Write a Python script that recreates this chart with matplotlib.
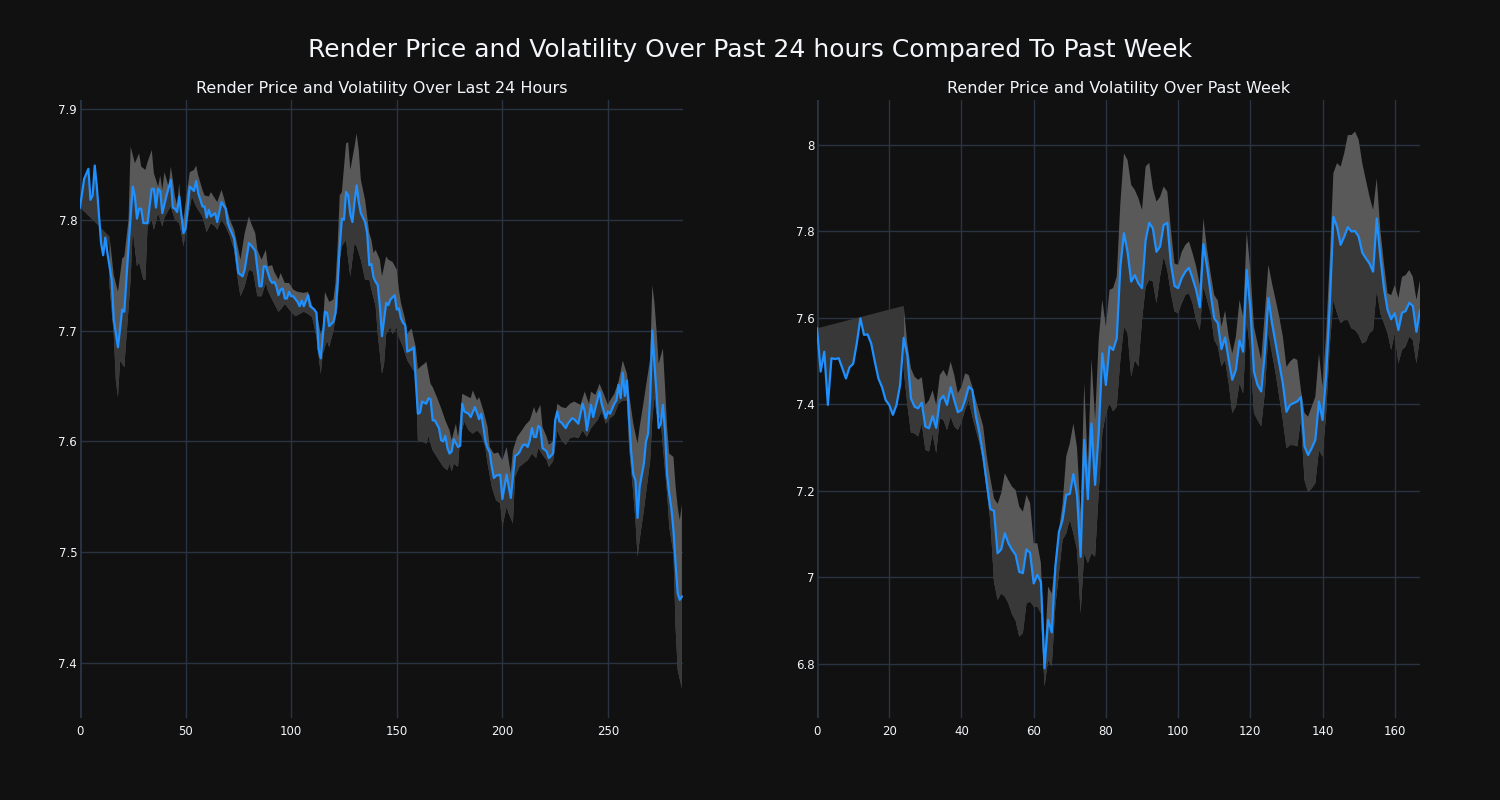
import numpy as np
import matplotlib.pyplot as plt
from matplotlib.patches import Polygon
from matplotlib.ticker import FuncFormatter

plt.rcParams['font.family'] = ['DejaVu Sans']

# ---- last 24 hours (5 min steps) ----
day_x = [0, 2, 4, 5, 6, 7, 8, 10, 11, 12, 13, 15, 16, 18, 20, 21, 23, 25, 26, 27, 28, 29, 30, 32, 34, 35,
         36, 37, 38, 39, 41, 43, 44, 45, 46, 47, 49, 50, 52, 54, 55, 56, 58, 59, 60, 61, 62, 64, 65, 67, 69,
         70, 71, 73, 75, 77, 78, 80, 81, 83, 85, 86, 87, 88, 90, 91, 92, 93, 94, 95, 96, 97, 98, 99, 100,
         101, 103, 104, 105, 106, 108, 109, 111, 112, 113, 114, 115, 116, 117, 118, 120, 121, 122, 123, 124,
         125, 126, 127, 128, 129, 130, 131, 132, 133, 135, 136, 137, 138, 139, 140, 141, 142, 143, 144, 145,
         146, 147, 149, 150, 151, 152, 153, 154, 155, 157, 158, 159, 160, 161, 162, 164, 165, 166, 167, 168,
         170, 171, 172, 173, 174, 175, 176, 177, 179, 180, 181, 182, 184, 185, 187, 189, 190, 191, 192, 193,
         194, 195, 196, 197, 199, 200, 202, 204, 206, 207, 208, 209, 210, 211, 212, 213, 214, 215, 216, 217,
         218, 219, 221, 222, 224, 225, 226, 227, 228, 230, 231, 233, 234, 236, 238, 239, 240, 242, 243, 244,
         246, 247, 249, 250, 251, 253, 254, 255, 256, 257, 258, 259, 260, 261, 262, 263, 264, 265, 267, 268,
         269, 270, 271, 272, 273, 274, 275, 276, 277, 278, 279, 280, 281, 282, 283, 284, 285]
day_price = [7.811, 7.837, 7.846, 7.818, 7.822, 7.849, 7.830, 7.779, 7.768, 7.784, 7.770, 7.746, 7.710, 7.685,
             7.719, 7.717, 7.776, 7.830, 7.821, 7.801, 7.810, 7.810, 7.797, 7.797, 7.828, 7.828, 7.811, 7.828,
             7.826, 7.806, 7.822, 7.836, 7.811, 7.810, 7.807, 7.821, 7.788, 7.792, 7.830, 7.826, 7.835, 7.824,
             7.812, 7.812, 7.802, 7.809, 7.803, 7.806, 7.798, 7.816, 7.810, 7.797, 7.792, 7.783, 7.752, 7.749,
             7.755, 7.779, 7.777, 7.772, 7.740, 7.740, 7.758, 7.758, 7.746, 7.743, 7.744, 7.740, 7.732, 7.737,
             7.738, 7.729, 7.729, 7.735, 7.731, 7.731, 7.726, 7.722, 7.727, 7.722, 7.732, 7.722, 7.719, 7.716,
             7.683, 7.675, 7.695, 7.717, 7.716, 7.704, 7.708, 7.716, 7.743, 7.776, 7.801, 7.800, 7.825, 7.822,
             7.805, 7.798, 7.816, 7.831, 7.816, 7.806, 7.798, 7.788, 7.759, 7.760, 7.748, 7.744, 7.741, 7.722,
             7.695, 7.710, 7.725, 7.723, 7.728, 7.732, 7.719, 7.720, 7.711, 7.707, 7.705, 7.681, 7.683, 7.685,
             7.655, 7.625, 7.626, 7.636, 7.634, 7.639, 7.638, 7.619, 7.619, 7.612, 7.601, 7.600, 7.605, 7.594,
             7.589, 7.591, 7.602, 7.595, 7.596, 7.634, 7.627, 7.625, 7.622, 7.631, 7.620, 7.625, 7.613, 7.600,
             7.594, 7.590, 7.577, 7.567, 7.569, 7.570, 7.548, 7.570, 7.549, 7.587, 7.588, 7.590, 7.594, 7.597,
             7.597, 7.595, 7.601, 7.612, 7.604, 7.604, 7.614, 7.612, 7.594, 7.591, 7.585, 7.589, 7.619, 7.627,
             7.618, 7.617, 7.612, 7.616, 7.621, 7.620, 7.616, 7.634, 7.627, 7.610, 7.633, 7.622, 7.630, 7.645,
             7.634, 7.621, 7.627, 7.625, 7.634, 7.637, 7.651, 7.639, 7.662, 7.641, 7.655, 7.620, 7.590, 7.570,
             7.565, 7.531, 7.559, 7.580, 7.600, 7.607, 7.640, 7.700, 7.670, 7.643, 7.612, 7.616, 7.633, 7.610,
             7.570, 7.553, 7.540, 7.520, 7.490, 7.463, 7.457, 7.460]

day_up_x = [14, 16, 18, 20, 21, 23, 24, 26, 28, 29, 31, 32, 34, 35, 37, 38, 39, 40, 42, 43, 44, 45, 46, 47,
            48, 49, 50, 52, 54, 55, 56, 58, 59, 61, 62, 64, 65, 67, 68, 70, 71, 73, 75, 76, 78, 80, 81, 83,
            84, 86, 88, 89, 91, 92, 94, 95, 97, 99, 101, 103, 106, 108, 110, 112, 114, 115, 116, 118, 120,
            121, 122, 123, 124, 126, 127, 128, 130, 131, 132, 133, 135, 137, 138, 139, 140, 142, 143, 145,
            146, 148, 150, 151, 152, 154, 155, 157, 159, 160, 161, 163, 164, 166, 167, 169, 171, 173, 175,
            176, 178, 179, 180, 181, 183, 185, 186, 188, 189, 191, 193, 194, 196, 198, 200, 202, 204, 205,
            207, 210, 211, 213, 215, 216, 218, 219, 221, 222, 224, 226, 228, 230, 232, 234, 237, 239, 241,
            242, 244, 246, 248, 250, 251, 253, 255, 256, 257, 259, 260, 262, 264, 265, 267, 268, 270, 271,
            272, 273, 274, 276, 277, 278, 279, 281, 282, 283, 284, 285]
day_upper = [7.785, 7.750, 7.735, 7.765, 7.767, 7.800, 7.866, 7.851, 7.860, 7.848, 7.845, 7.852, 7.863, 7.842,
             7.830, 7.840, 7.827, 7.843, 7.830, 7.848, 7.836, 7.821, 7.813, 7.833, 7.806, 7.800, 7.815, 7.843,
             7.845, 7.849, 7.840, 7.827, 7.822, 7.821, 7.825, 7.819, 7.816, 7.827, 7.821, 7.807, 7.800, 7.791,
             7.773, 7.764, 7.788, 7.803, 7.797, 7.788, 7.773, 7.764, 7.773, 7.758, 7.759, 7.753, 7.746, 7.752,
             7.743, 7.743, 7.737, 7.735, 7.734, 7.735, 7.722, 7.717, 7.697, 7.703, 7.735, 7.726, 7.728, 7.743,
             7.776, 7.822, 7.825, 7.869, 7.870, 7.845, 7.866, 7.878, 7.863, 7.836, 7.818, 7.788, 7.782, 7.770,
             7.773, 7.764, 7.749, 7.767, 7.764, 7.762, 7.755, 7.737, 7.725, 7.710, 7.697, 7.702, 7.685, 7.665,
             7.667, 7.670, 7.672, 7.652, 7.649, 7.640, 7.630, 7.619, 7.610, 7.601, 7.616, 7.604, 7.620, 7.643,
             7.641, 7.639, 7.646, 7.637, 7.640, 7.628, 7.613, 7.595, 7.589, 7.590, 7.583, 7.595, 7.571, 7.592,
             7.604, 7.612, 7.615, 7.619, 7.631, 7.625, 7.633, 7.613, 7.604, 7.597, 7.600, 7.634, 7.631, 7.630,
             7.634, 7.636, 7.633, 7.645, 7.634, 7.645, 7.642, 7.652, 7.643, 7.633, 7.637, 7.643, 7.654, 7.663,
             7.673, 7.661, 7.643, 7.616, 7.598, 7.613, 7.637, 7.650, 7.675, 7.741, 7.725, 7.700, 7.670, 7.684,
             7.650, 7.613, 7.589, 7.586, 7.560, 7.541, 7.529, 7.543]

day_lo_x = [14, 16, 17, 18, 19, 21, 22, 24, 25, 27, 28, 30, 31, 32, 34, 35, 37, 39, 40, 42, 43, 45, 47, 48,
            49, 51, 53, 55, 58, 60, 62, 64, 65, 67, 69, 71, 73, 75, 76, 78, 80, 82, 84, 86, 88, 89, 91, 94,
            95, 97, 100, 102, 106, 108, 110, 112, 114, 115, 117, 118, 120, 122, 123, 124, 126, 127, 128, 130,
            131, 133, 135, 137, 138, 140, 141, 143, 144, 145, 147, 148, 150, 151, 153, 155, 157, 159, 160,
            162, 164, 165, 167, 169, 172, 174, 175, 176, 177, 179, 180, 182, 184, 186, 188, 190, 192, 193,
            195, 197, 199, 200, 202, 203, 205, 206, 208, 210, 212, 214, 216, 217, 219, 221, 222, 224, 226,
            228, 230, 232, 234, 236, 238, 240, 242, 245, 247, 249, 251, 253, 255, 257, 259, 260, 262, 263,
            264, 265, 267, 269, 270, 271, 272, 273, 275, 276, 278, 279, 281, 282, 283, 285]
day_lower = [7.740, 7.697, 7.655, 7.640, 7.673, 7.667, 7.694, 7.746, 7.791, 7.758, 7.762, 7.746, 7.746, 7.794,
             7.800, 7.791, 7.806, 7.794, 7.802, 7.809, 7.812, 7.800, 7.797, 7.788, 7.776, 7.800, 7.821, 7.812,
             7.803, 7.789, 7.797, 7.794, 7.791, 7.800, 7.794, 7.785, 7.773, 7.743, 7.731, 7.740, 7.755, 7.753,
             7.731, 7.731, 7.743, 7.736, 7.728, 7.717, 7.719, 7.724, 7.717, 7.713, 7.717, 7.715, 7.712, 7.694,
             7.661, 7.679, 7.691, 7.685, 7.700, 7.722, 7.764, 7.776, 7.782, 7.764, 7.749, 7.779, 7.776, 7.764,
             7.746, 7.746, 7.737, 7.722, 7.697, 7.661, 7.670, 7.697, 7.703, 7.697, 7.703, 7.694, 7.685, 7.673,
             7.667, 7.661, 7.601, 7.600, 7.598, 7.605, 7.592, 7.586, 7.577, 7.574, 7.580, 7.573, 7.580, 7.577,
             7.604, 7.618, 7.610, 7.607, 7.610, 7.606, 7.594, 7.580, 7.559, 7.547, 7.544, 7.523, 7.541, 7.535,
             7.526, 7.568, 7.577, 7.580, 7.583, 7.589, 7.585, 7.594, 7.588, 7.583, 7.577, 7.582, 7.610, 7.601,
             7.597, 7.603, 7.604, 7.603, 7.610, 7.604, 7.612, 7.619, 7.627, 7.616, 7.621, 7.624, 7.634, 7.637,
             7.637, 7.595, 7.553, 7.529, 7.496, 7.511, 7.538, 7.568, 7.583, 7.620, 7.640, 7.625, 7.619, 7.595,
             7.553, 7.523, 7.499, 7.433, 7.394, 7.377]

# ---- past week (hourly) ----
week_price = [7.576, 7.476, 7.522, 7.399, 7.507, 7.505, 7.507, 7.484, 7.460, 7.486, 7.494, 7.541, 7.599, 7.561,
              7.562, 7.541, 7.499, 7.460, 7.440, 7.410, 7.399, 7.376, 7.399, 7.445, 7.554, 7.514, 7.414, 7.395,
              7.391, 7.404, 7.349, 7.345, 7.373, 7.346, 7.410, 7.420, 7.399, 7.440, 7.410, 7.382, 7.387, 7.410,
              7.441, 7.434, 7.372, 7.333, 7.283, 7.218, 7.158, 7.154, 7.056, 7.065, 7.102, 7.079, 7.064, 7.052,
              7.013, 7.010, 7.065, 7.057, 6.986, 7.006, 6.990, 6.790, 6.902, 6.873, 7.025, 7.106, 7.133, 7.191,
              7.193, 7.239, 7.191, 7.048, 7.318, 7.181, 7.356, 7.214, 7.333, 7.518, 7.445, 7.534, 7.526, 7.553,
              7.719, 7.796, 7.753, 7.684, 7.699, 7.680, 7.669, 7.780, 7.820, 7.807, 7.753, 7.765, 7.815, 7.820,
              7.726, 7.674, 7.669, 7.692, 7.707, 7.716, 7.692, 7.665, 7.625, 7.771, 7.719, 7.657, 7.599, 7.588,
              7.528, 7.555, 7.503, 7.457, 7.480, 7.548, 7.522, 7.711, 7.622, 7.476, 7.445, 7.430, 7.518, 7.646,
              7.588, 7.541, 7.495, 7.449, 7.383, 7.399, 7.403, 7.407, 7.417, 7.303, 7.283, 7.299, 7.318, 7.407,
              7.364, 7.468, 7.630, 7.834, 7.811, 7.769, 7.788, 7.810, 7.800, 7.801, 7.788, 7.751, 7.738, 7.726,
              7.707, 7.830, 7.742, 7.669, 7.619, 7.597, 7.611, 7.572, 7.612, 7.616, 7.635, 7.628, 7.568, 7.618]
week_x = list(range(len(week_price)))

week_band_x = list(range(24, 168))
week_upper = [7.628, 7.541, 7.484, 7.464, 7.457, 7.463, 7.399, 7.410, 7.433, 7.399, 7.468, 7.480, 7.464, 7.499,
              7.468, 7.426, 7.441, 7.472, 7.468, 7.441, 7.410, 7.380, 7.350, 7.280, 7.229, 7.183, 7.170, 7.195,
              7.241, 7.225, 7.210, 7.202, 7.164, 7.152, 7.191, 7.172, 7.079, 7.079, 7.033, 6.820, 6.979, 6.963,
              7.040, 7.110, 7.170, 7.280, 7.310, 7.356, 7.300, 7.149, 7.450, 7.256, 7.507, 7.364, 7.550, 7.642,
              7.580, 7.665, 7.669, 7.696, 7.865, 7.981, 7.965, 7.908, 7.896, 7.877, 7.850, 7.950, 7.959, 7.900,
              7.869, 7.880, 7.904, 7.892, 7.804, 7.726, 7.723, 7.753, 7.769, 7.777, 7.750, 7.719, 7.676, 7.830,
              7.760, 7.703, 7.653, 7.640, 7.580, 7.617, 7.557, 7.518, 7.557, 7.642, 7.603, 7.800, 7.711, 7.580,
              7.541, 7.503, 7.611, 7.723, 7.680, 7.642, 7.603, 7.557, 7.487, 7.499, 7.507, 7.503, 7.434, 7.380,
              7.372, 7.395, 7.418, 7.518, 7.441, 7.565, 7.734, 7.935, 7.958, 7.950, 7.981, 8.023, 8.023, 8.031,
              8.012, 7.958, 7.919, 7.881, 7.850, 7.923, 7.804, 7.726, 7.657, 7.653, 7.676, 7.646, 7.695, 7.699,
              7.711, 7.695, 7.642, 7.688]
week_lower = [7.480, 7.400, 7.335, 7.333, 7.326, 7.356, 7.295, 7.291, 7.333, 7.287, 7.368, 7.364, 7.341, 7.372,
              7.349, 7.341, 7.360, 7.387, 7.410, 7.372, 7.340, 7.310, 7.265, 7.200, 7.130, 6.990, 6.948, 6.963,
              6.956, 6.940, 6.915, 6.900, 6.863, 6.871, 6.940, 6.944, 6.933, 6.933, 6.917, 6.748, 6.809, 6.794,
              6.933, 7.010, 7.087, 7.102, 7.133, 7.102, 7.064, 6.917, 7.056, 7.033, 7.056, 7.048, 7.195, 7.333,
              7.380, 7.403, 7.384, 7.395, 7.503, 7.580, 7.565, 7.464, 7.503, 7.488, 7.595, 7.672, 7.688, 7.684,
              7.634, 7.696, 7.742, 7.711, 7.657, 7.615, 7.611, 7.634, 7.653, 7.657, 7.634, 7.595, 7.572, 7.672,
              7.642, 7.611, 7.549, 7.534, 7.488, 7.503, 7.449, 7.380, 7.395, 7.449, 7.426, 7.595, 7.518, 7.380,
              7.364, 7.349, 7.426, 7.565, 7.518, 7.472, 7.418, 7.364, 7.299, 7.306, 7.306, 7.303, 7.364, 7.225,
              7.198, 7.206, 7.218, 7.295, 7.279, 7.380, 7.534, 7.642, 7.611, 7.588, 7.595, 7.595, 7.576, 7.572,
              7.561, 7.541, 7.545, 7.565, 7.572, 7.665, 7.611, 7.588, 7.565, 7.526, 7.565, 7.495, 7.526, 7.534,
              7.557, 7.549, 7.495, 7.557]

BG = '#111111'
GRID = '#283442'
LIGHT = '#595959'
DARK = '#383838'
BLUE = '#1e90ff'
TXT = '#f2f5fa'


def draw_panel(ax, x, price, ux, upper, lx, lower, title, xlim, ylim, yticks, xticks):
    ax.set_facecolor(BG)
    x = np.asarray(x, float)
    price = np.asarray(price, float)
    w = ux[0]

    # warm-up segment before the rolling window: price joined to first upper value
    head = x <= w
    hx = np.concatenate([x[head], [w, x[0]]])
    hy = np.concatenate([price[head], [upper[0], price[0]]])
    ax.fill(hx, hy, color=DARK, lw=0, zorder=2)

    # band: light above price, dark below
    bx = np.concatenate([ux, lx[::-1]])
    by = np.concatenate([upper, lower[::-1]])
    ax.fill(bx, by, color=LIGHT, lw=0, zorder=2)
    dark = ax.fill(bx, by, color=DARK, lw=0, zorder=3)[0]
    clip = Polygon(np.column_stack([np.concatenate([x, [x[-1], x[0]]]),
                                    np.concatenate([price, [ylim[0] - 5, ylim[0] - 5]])]),
                   closed=True, transform=ax.transData)
    dark.set_clip_path(clip)

    ax.plot(x, price, color=BLUE, lw=1.6, zorder=5)

    ax.set_xlim(*xlim)
    ax.set_ylim(*ylim)
    ax.set_xticks(xticks)
    ax.set_yticks(yticks)
    ax.yaxis.set_major_formatter(FuncFormatter(lambda v, p: f'{v:g}'))
    ax.grid(True, color=GRID, lw=1, zorder=0)
    ax.set_axisbelow(True)
    ax.axvline(0, color=GRID, lw=2, zorder=1)
    for s in ax.spines.values():
        s.set_visible(False)
    ax.tick_params(axis='x', length=0, colors=TXT, labelsize=8.5, pad=5)
    ax.tick_params(axis='y', length=0, colors=TXT, labelsize=8.5, pad=2)
    ax.set_title(title, color=TXT, fontsize=11.5, pad=5)


fig = plt.figure(figsize=(15, 8), dpi=100, facecolor=BG)
ax1 = fig.add_axes([0.0533, 0.1025, 0.402, 0.7725])
ax2 = fig.add_axes([0.5447, 0.1025, 0.402, 0.7725])

draw_panel(ax1, day_x, day_price, day_up_x, day_upper, day_lo_x, day_lower,
           'Render Price and Volatility Over Last 24 Hours',
           (0, 285.5), (7.3504, 7.9081), np.arange(7.4, 7.95, 0.1), range(0, 251, 50))
draw_panel(ax2, week_x, week_price, week_band_x, week_upper, week_band_x, week_lower,
           'Render Price and Volatility Over Past Week',
           (0, 167), (6.675, 8.104), np.arange(6.8, 8.05, 0.2), range(0, 161, 20))

fig.text(0.5, 0.937, 'Render Price and Volatility Over Past 24 hours Compared To Past Week',
         ha='center', va='center', color=TXT, fontsize=18)

fig.savefig('out.png', dpi=100, facecolor=BG)
